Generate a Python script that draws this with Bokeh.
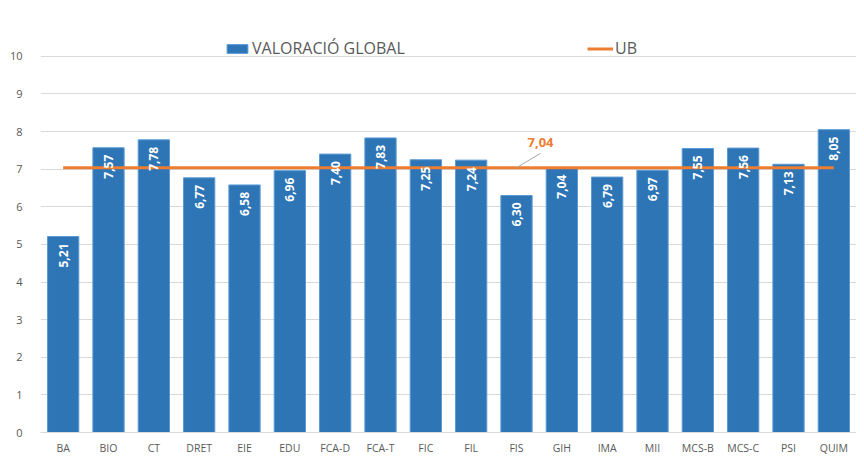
import math
from bokeh.plotting import figure
from bokeh.models import (ColumnDataSource, FactorRange, Range1d, Legend, LegendItem,
                          FixedTicker)
from bokeh.core.properties import value
from bokeh.embed import file_html
from bokeh.resources import INLINE

categories = ["BA", "BIO", "CT", "DRET", "EIE", "EDU", "FCA-D", "FCA-T", "FIC", "FIL",
              "FIS", "GIH", "IMA", "MII", "MCS-B", "MCS-C", "PSI", "QUIM"]
valoracio_global = [5.21, 7.57, 7.78, 6.77, 6.58, 6.96, 7.40, 7.83, 7.25, 7.24,
                    6.30, 7.04, 6.79, 6.97, 7.55, 7.56, 7.13, 8.05]
ub_value = 7.04
ub_label_category = "FIS"
y_ticks = [0, 1, 2, 3, 4, 5, 6, 7, 8, 9, 10]

FONT = "Open Sans"
GRAY = "#595959"
BLUE = "#2e75b6"
ORANGE = "#ed7d31"

def fmt(v):
    return f"{v:.2f}".replace(".", ",")

bar_src = ColumnDataSource(dict(cat=categories, val=valoracio_global,
                                lab=[fmt(v) for v in valoracio_global]))
ub_src = ColumnDataSource(dict(cat=categories, ub=[ub_value] * len(categories)))

p = figure(x_range=FactorRange(*categories, range_padding=0), y_range=Range1d(0, 10.5),
           width=856, height=457, output_backend="svg", toolbar_location=None,
           min_border_left=40, min_border_right=0, min_border_top=37, min_border_bottom=20)
p.outline_line_color = None

bars = p.vbar(x="cat", top="val", width=0.69, source=bar_src,
              fill_color=BLUE, line_color="#5b9bd5", line_width=1)
ub_line = p.line(x="cat", y="ub", source=ub_src, line_color=ORANGE, line_width=3)

p.text(x="cat", y="val", text="lab", source=bar_src, angle=math.pi / 2,
       text_align="right", text_baseline="middle", y_offset=7,
       text_color="white", text_font_style="bold", text_font_size="12px",
       text_font=value(FONT))

# UB data label with leader line
lead_src = ColumnDataSource(dict(x0=[ub_label_category], y0=[ub_value],
                                 x1=[(ub_label_category, 0.53)], y1=[ub_value + 0.38]))
p.segment(x0="x0", y0="y0", x1="x1", y1="y1", source=lead_src,
          line_color="#a6a6a6", line_width=1)
p.text(x=[ub_label_category], y=[ub_value], text=[fmt(ub_value)], x_offset=24, y_offset=-25,
       text_align="center", text_baseline="middle", text_color=ORANGE,
       text_font_style="bold", text_font_size="13px", text_font=value(FONT))

p.yaxis.ticker = FixedTicker(ticks=y_ticks)
p.yaxis.axis_line_color = None
p.yaxis.major_tick_line_color = None
p.yaxis.minor_tick_line_color = None
p.yaxis.major_label_text_font = FONT
p.yaxis.major_label_text_font_size = "11px"
p.yaxis.major_label_text_color = GRAY
p.yaxis.major_label_standoff = 12

p.xaxis.axis_line_color = "#d9d9d9"
p.xaxis.major_tick_line_color = None
p.xaxis.major_label_text_font = FONT
p.xaxis.major_label_text_font_size = "10.5px"
p.xaxis.major_label_text_color = GRAY
p.xaxis.major_label_standoff = 2

p.xgrid.grid_line_color = None
p.ygrid.grid_line_color = "#d9d9d9"

common = dict(padding=0, margin=0, border_line_alpha=0, background_fill_alpha=0,
              glyph_width=26, glyph_height=11, label_standoff=2, spacing=0,
              label_text_font=FONT, label_text_font_size="16px", label_text_color=GRAY)
leg1 = Legend(items=[LegendItem(label="VALORACIÓ GLOBAL", renderers=[bars])],
              location=(184, 373), **common)
leg2 = Legend(items=[LegendItem(label="UB", renderers=[ub_line])],
              location=(547, 373), **common)
p.add_layout(leg1)
p.add_layout(leg2)

open("out.html", "w").write(file_html(p, INLINE))
